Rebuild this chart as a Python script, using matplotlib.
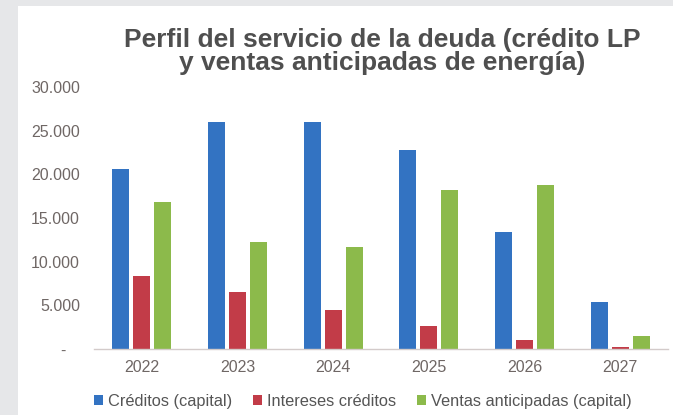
import matplotlib.pyplot as plt
import matplotlib.patches as mpatches
import numpy as np
from matplotlib.ticker import FuncFormatter

plt.rcParams['font.family'] = ['Liberation Sans', 'DejaVu Sans']

# datos del servicio de la deuda por año
years = ['2022', '2023', '2024', '2025', '2026', '2027']
creditos_capital = [20600, 26000, 26000, 22750, 13400, 5350]
intereses_creditos = [8350, 6550, 4450, 2600, 1000, 200]
ventas_anticipadas = [16850, 12250, 11650, 18150, 18750, 1450]

series_names = ['Créditos (capital)', 'Intereses créditos', 'Ventas anticipadas (capital)']
series_colors = ['#3373c2', '#c23c48', '#8cba4b']

fig = plt.figure(figsize=(6.73, 4.15), dpi=100)
fig.patch.set_facecolor('#e6e7e9')
# panel blanco
fig.patches.append(mpatches.Rectangle((18 / 673, 0), 1, (415 - 6) / 415,
                                      transform=fig.transFigure, facecolor='white',
                                      edgecolor='none', zorder=-5))

ax = fig.add_axes([94 / 673, 1 - 349 / 415, (668 - 94) / 673, (349 - 87) / 415])
ax.set_facecolor('none')
ax.set_zorder(2)

x = np.arange(len(years))
width = 0.178
step = 0.22
all_series = [creditos_capital, intereses_creditos, ventas_anticipadas]
for i, (vals, name, col) in enumerate(zip(all_series, series_names, series_colors)):
    ax.bar(x + (i - 1) * step, vals, width, color=col, label=name, zorder=2)

ax.set_xlim(-0.5, len(years) - 0.5)
ax.set_ylim(0, 30000)
ax.set_yticks(range(0, 30001, 5000))


def fmt(v, pos):
    if v == 0:
        return '-   '
    return '{:,.0f}'.format(v).replace(',', '.')


ax.yaxis.set_major_formatter(FuncFormatter(fmt))
ax.set_xticks(x)
ax.set_xticklabels(years)
ax.tick_params(axis='both', length=0, labelsize=11.5, colors='#6f6765')
ax.tick_params(axis='y', pad=10)
ax.tick_params(axis='x', pad=8)

for s in ['top', 'right', 'left']:
    ax.spines[s].set_visible(False)
ax.spines['bottom'].set_color('#d3cbca')
ax.spines['bottom'].set_linewidth(1.0)

fig.text(0.568, 1 - 28 / 415,
         'Perfil del servicio de la deuda (crédito LP\ny ventas anticipadas de energía)',
         ha='center', va='top', fontsize=19, fontweight='bold', color='#4f4f4f',
         linespacing=0.95, zorder=3)

handles, labels = ax.get_legend_handles_labels()
leg = fig.legend(handles, labels, loc='center', bbox_to_anchor=(0.539, 1 - 401 / 415),
                 ncol=3, frameon=False, fontsize=11.8, handlelength=0.55, handleheight=0.55,
                 handletextpad=0.3, columnspacing=1.3, labelcolor='#555555')

fig.savefig('out.png', dpi=100, facecolor=fig.get_facecolor())
